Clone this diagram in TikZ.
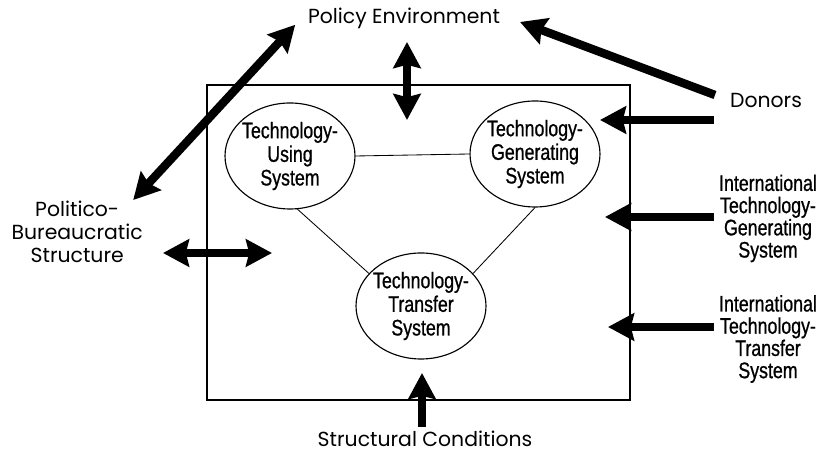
\documentclass[tikz,border=0pt]{standalone}
\usepackage{fontspec}
\usetikzlibrary{shapes, arrows.meta, positioning, calc}
\newfontfamily\gothicfont{Poppins}
\newfontfamily\narrowfont[FakeStretch=0.79, FakeBold=0.8]{Liberation Sans}

\begin{document}
\begin{tikzpicture}
  \useasboundingbox (0,0) rectangle (20.625,-11.3);
  \tikzset{
    sysnode/.style={draw, ellipse, thick, minimum width=3.25cm, minimum height=2.65cm, inner xsep=-5pt, inner ysep=0pt, align=center, font=\narrowfont\fontsize{16}{16.8}\selectfont},
    sidelabel/.style={align=center, font=\narrowfont\fontsize{16}{15.8}\selectfont},
    gothiclabel/.style={align=center, font=\gothicfont\fontsize{14.5}{16.3}\selectfont},
    bigarrow/.style={line width=6pt, -{Stealth[length=0.65cm, width=0.68cm, inset=0.08cm]}},
    bigboth/.style={line width=6pt, {Stealth[length=0.65cm, width=0.68cm, inset=0.08cm]}-{Stealth[length=0.65cm, width=0.68cm, inset=0.08cm]}}
  }

  % National system frame
  \node[draw, line width=1.1pt, minimum width=10.575cm, minimum height=7.875cm, inner sep=0pt] (frame) at (10.4625,-6.0625) {};

  % The three subsystems
  \node[sysnode] (using) at (7.25,-3.9) {Technology-\\Using\\System};
  \node[sysnode] (gen) at (13.375,-3.85) {Technology-\\Generating\\System};
  \node[sysnode] (transfer) at (10.525,-7.65) {Technology-\\Transfer\\System};

  \draw[semithick] (using.east) -- (gen.west);
  \draw[semithick] (using.-82) -- (transfer.148);
  \draw[semithick] (gen.south) -- (transfer.32);

  % Outside influences
  \node[gothiclabel] (policy) at (10.1,-0.45) {Policy Environment};
  \node[gothiclabel] (politico) at (1.93,-5.8) {Politico-\\Bureaucratic\\Structure};
  \node[gothiclabel] (struct) at (10.625,-10.98) {Structural Conditions};
  \node[gothiclabel] (donors) at (19.15,-2.5) {Donors};
  \node[sidelabel] (intgen) at (19.2,-5.46) {International\\Technology-\\Generating\\System};
  \node[sidelabel] (inttr) at (19.2,-8.475) {International\\Technology-\\Transfer\\System};

  % Arrow end points
  \coordinate (pbtip) at (3.33,-5.0);
  \coordinate (petip) at (7.38,-0.62);
  \coordinate (pvtop) at (10.175,-1.05);
  \coordinate (pvbot) at (10.175,-3.0);
  \coordinate (donout) at (17.875,-2.375);
  \coordinate (dontip) at (13.0,-0.55);
  \coordinate (donin) at (15.0,-3.0);
  \coordinate (genin) at (15.125,-5.425);
  \coordinate (trin) at (15.2,-8.175);
  \coordinate (pbleft) at (4.075,-6.325);
  \coordinate (pbright) at (6.8,-6.325);
  \coordinate (scbot) at (10.55,-10.675);
  \coordinate (sctip) at (10.55,-9.325);

  \draw[bigboth] (pbtip) -- (petip);
  \draw[bigboth] (pvtop) -- (pvbot);
  \draw[bigboth] (pbleft) -- (pbright);
  \draw[bigarrow] (donout) -- (dontip);
  \draw[bigarrow] (intgen.west |- donin) -- (donin);
  \draw[bigarrow] (intgen.west |- genin) -- (genin);
  \draw[bigarrow] (inttr.west |- trin) -- (trin);
  \draw[bigarrow] (scbot) -- (sctip);
\end{tikzpicture}
\end{document}
